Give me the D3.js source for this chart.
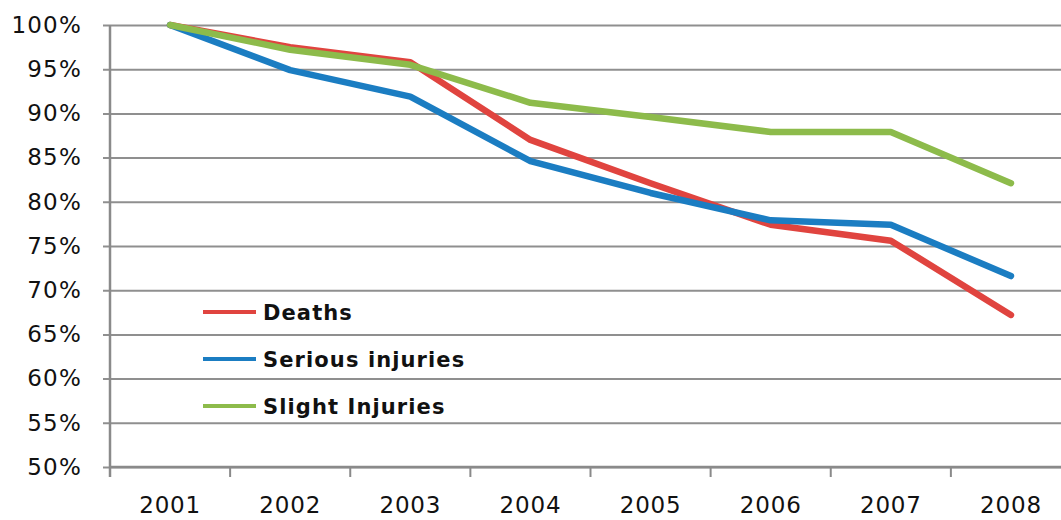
<!DOCTYPE html>
<html>
<head>
<meta charset="utf-8">
<script src="https://cdn.jsdelivr.net/npm/d3@7"></script>
<style>
  body { margin: 0; background: #fff; }
  svg { display: block; }
</style>
</head>
<body>
<svg></svg>
<script>
const years = ['2001', '2002', '2003', '2004', '2005', '2006', '2007', '2008'];
const deaths = [100, 97.5, 95.8, 87.0, 82.1, 77.4, 75.6, 67.2];
const serious = [100, 94.9, 91.9, 84.6, 81.0, 77.9, 77.4, 71.6];
const slight = [100, 97.2, 95.5, 91.2, 89.6, 87.9, 87.9, 82.1];
const yTicks = [50, 55, 60, 65, 70, 75, 80, 85, 90, 95, 100];

const series = [
  {name: 'Deaths', values: deaths, color: '#e0443f'},
  {name: 'Serious injuries', values: serious, color: '#1b7dc2'},
  {name: 'Slight Injuries', values: slight, color: '#8dbb4b'}
];

const width = 1061;
const height = 520;

const svg = d3.select('svg').attr('width', width).attr('height', height);

const xScale = d3.scaleBand().domain(years).range([110, 1071]);
const yScale = d3.scaleLinear().domain([50, 100]).range([467, 25]);

// gridlines + y axis labels
const yAxis = svg.append('g')
    .attr('transform', 'translate(110,0)')
    .call(d3.axisLeft(yScale).tickValues(yTicks).tickFormat(d => d + '%').tickSize(-(width - 110)).tickPadding(28));
yAxis.select('.domain').remove();
yAxis.selectAll('.tick line').attr('stroke', '#8f8f8f').attr('stroke-width', 2).attr('x1', -7);
yAxis.selectAll('.tick text')
    .attr('fill', '#111')
    .style('font-family', 'DejaVu Sans, Verdana, sans-serif')
    .style('font-size', '23px')
    .style('letter-spacing', '1.2px');

// x axis
const xAxis = svg.append('g')
    .attr('transform', 'translate(0,467)')
    .call(d3.axisBottom(xScale).tickSize(0).tickPadding(30));
xAxis.select('.domain').attr('stroke', '#8a8a8a').attr('stroke-width', 2.5).attr('d', 'M110,0H' + width);
xAxis.selectAll('.tick text')
    .attr('fill', '#111')
    .style('font-family', 'DejaVu Sans, Verdana, sans-serif')
    .style('font-size', '23px')
    .style('letter-spacing', '0.8px');

// category boundary ticks
svg.append('g').selectAll('line')
  .data(years)
  .enter()
  .append('line')
  .attr('x1', d => xScale(d))
  .attr('x2', d => xScale(d))
  .attr('y1', 467)
  .attr('y2', 477)
  .attr('stroke', '#8a8a8a')
  .attr('stroke-width', 2);

// y axis line
svg.append('line')
    .attr('x1', 110).attr('x2', 110)
    .attr('y1', 25).attr('y2', 477)
    .attr('stroke', '#8a8a8a')
    .attr('stroke-width', 2.5);

const line = d3.line()
    .x((d, i) => xScale(years[i]) + xScale.bandwidth() / 2)
    .y(d => yScale(d));

svg.selectAll('.series')
  .data(series)
  .enter()
  .append('path')
  .attr('class', 'series')
  .attr('d', d => line(d.values))
  .attr('fill', 'none')
  .attr('stroke', d => d.color)
  .attr('stroke-width', 6.5)
  .attr('stroke-linejoin', 'round')
  .attr('stroke-linecap', 'round');

// legend
const legend = svg.append('g').selectAll('g')
  .data(series)
  .enter()
  .append('g')
  .attr('transform', (d, i) => 'translate(203,' + (312 + i * 47) + ')');

legend.append('line')
    .attr('x1', 0).attr('x2', 53)
    .attr('stroke', d => d.color)
    .attr('stroke-width', 4);

legend.append('text')
    .attr('x', 60)
    .attr('dy', '0.36em')
    .text(d => d.name)
    .attr('fill', '#111')
    .style('font-family', 'DejaVu Sans, Verdana, sans-serif')
    .style('font-weight', 'bold')
    .style('font-size', '21px')
    .style('letter-spacing', '1.1px');
</script>
</body>
</html>
